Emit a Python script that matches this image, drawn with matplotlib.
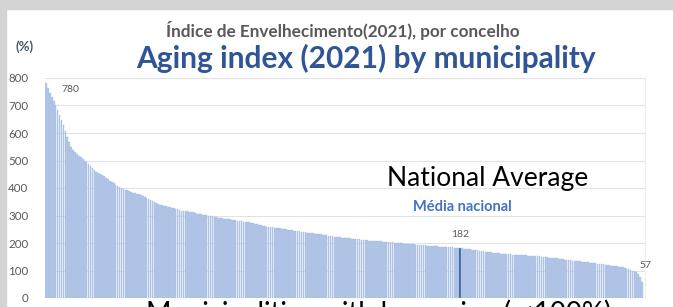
import matplotlib
matplotlib.use("Agg")
import matplotlib.pyplot as plt
from matplotlib.patches import Rectangle

# aging index per municipality, sorted high -> low
municipal_values = [
    780, 764, 747, 731, 716, 701, 684, 666, 648, 628, 608, 587, 566, 549, 538, 530, 524, 518, 512, 506,
    500, 494, 487, 480, 473, 466, 460, 455, 450, 446, 442, 437, 432, 427, 422, 417, 412, 408, 404, 400,
    397, 394, 391, 388, 385, 383, 381, 379, 377, 375, 372, 368, 364, 360, 356, 352, 349, 346, 343, 340,
    338, 336, 334, 332, 330, 328, 326, 324, 322, 320, 318, 317, 316, 315, 314, 313, 311, 309, 307, 305,
    304, 303, 302, 301, 300, 299, 298, 296, 294, 292, 291, 290, 289, 288, 287, 286, 285, 284, 283, 281,
    280, 279, 278, 277, 276, 275, 274, 272, 270, 268, 266, 264, 262, 261, 260, 259, 258, 257, 256, 255,
    254, 253, 252, 251, 250, 249, 247, 246, 245, 244, 243, 242, 241, 240, 239, 238, 237, 236, 235, 234,
    233, 232, 231, 230, 229, 228, 227, 225, 224, 223, 222, 221, 221, 220, 219, 218, 218, 217, 216, 215,
    215, 214, 213, 212, 212, 211, 210, 209, 209, 208, 208, 207, 207, 206, 205, 205, 204, 203, 203, 202,
    201, 201, 200, 200, 199, 198, 198, 197, 196, 196, 195, 194, 194, 193, 192, 192, 191, 190, 190, 189,
    189, 188, 188, 187, 187, 186, 186, 185, 185, 184, 184, 183, 183, 183,
    181, 180, 179, 178, 177, 176, 175, 174, 173, 172, 171, 170, 169, 168, 167, 166, 165, 164, 163, 162,
    161, 161, 160, 160, 159, 159, 158, 158, 157, 157, 156, 156, 155, 155, 154, 154, 153, 153, 152, 152,
    151, 150, 150, 149, 148, 147, 146, 146, 145, 144, 143, 142, 141, 140, 139, 138, 137, 136, 135, 134,
    133, 133, 132, 131, 130, 130, 129, 128, 127, 126, 125, 124, 123, 122, 121, 120, 119, 118, 117, 116,
    115, 114, 113, 111, 109, 107, 105, 103, 100, 97, 93, 86, 75, 57,
]
national_avg = 182

title_pt = "Índice de Envelhecimento(2021), por concelho"
title_en = "Aging index (2021) by municipality"
avg_label_pt = "Média nacional"
avg_label_en = "National Average"
bottom_note = "Municipalities with less aging ( <100%):"

# insert the national average into the sorted series
values = [v for v in municipal_values if v > national_avg] + [national_avg] + \
         [v for v in municipal_values if v <= national_avg]
avg_idx = len([v for v in municipal_values if v > national_avg])
colors = ["#B4C7E7"] * len(values)
colors[avg_idx] = "#2F5597"

plt.rcParams["font.family"] = ["Lato", "DejaVu Sans"]

W, H = 673, 307
fig = plt.figure(figsize=(W / 100, H / 100), dpi=100)
fig.patch.set_facecolor("white")

def fx(px):
    return px / W

def fy(py):
    return 1 - py / H

# grey slide border (screenshot frame)
fig.patches.append(Rectangle((0, fy(9)), 1, 9 / H, transform=fig.transFigure,
                             color="#D4D4D4", zorder=0))
fig.patches.append(Rectangle((0, 0), 6 / W, 1, transform=fig.transFigure,
                             color="#D4D4D4", zorder=0))

ax = fig.add_axes([fx(45), fy(298), fx(645) - fx(45), fy(78) - fy(298)])
x = range(len(values))
ax.bar(x, values, width=0.85, color=colors, edgecolor="#A3BAE3", linewidth=0.25, zorder=2)
ax.set_xlim(-0.5, len(values) + 0.5)
ax.set_ylim(0, 800)
ax.set_yticks(range(0, 801, 100))
ax.yaxis.grid(True, color="#E3E3E3", linewidth=0.8, zorder=0)
ax.set_axisbelow(True)
ax.set_xticks([])
ax.tick_params(axis="y", length=0, pad=12, labelsize=8.3, labelcolor="#595959")
for side in ["top", "left", "bottom"]:
    ax.spines[side].set_visible(False)
ax.spines["right"].set_color("#EEEEEE")

# value labels
ax.text(8, 758, str(values[0]), fontsize=7.5, color="#595959", ha="left", va="center")
ax.text(avg_idx, 230, str(national_avg), fontsize=7.5, color="#595959", ha="center", va="center")
ax.text(len(values) + 0.5, 117, str(values[-1]), fontsize=7.5, color="#595959",
        ha="center", va="center")
ax.text(avg_idx + 1, 332, avg_label_pt, fontsize=10.5, color="#4472C4", fontweight="bold",
        ha="center", va="center")
ax.text(avg_idx + 14, 435, avg_label_en, fontsize=19, color="black",
        ha="center", va="center")

# titles and notes
fig.text(fx(343), fy(30), title_pt, fontsize=12.3, color="#595959", fontweight="bold",
         ha="center", va="center")
fig.text(fx(366), fy(58), title_en, fontsize=21.5, color="#2F5597", fontweight="bold",
         ha="center", va="center")
fig.text(fx(25), fy(47), "(%)", fontsize=9.5, color="#44546A", fontweight="bold",
         ha="center", va="center")
fig.text(fx(146), fy(299), bottom_note, fontsize=19.8, color="black",
         ha="left", va="top")

fig.savefig("out.png", dpi=100)
